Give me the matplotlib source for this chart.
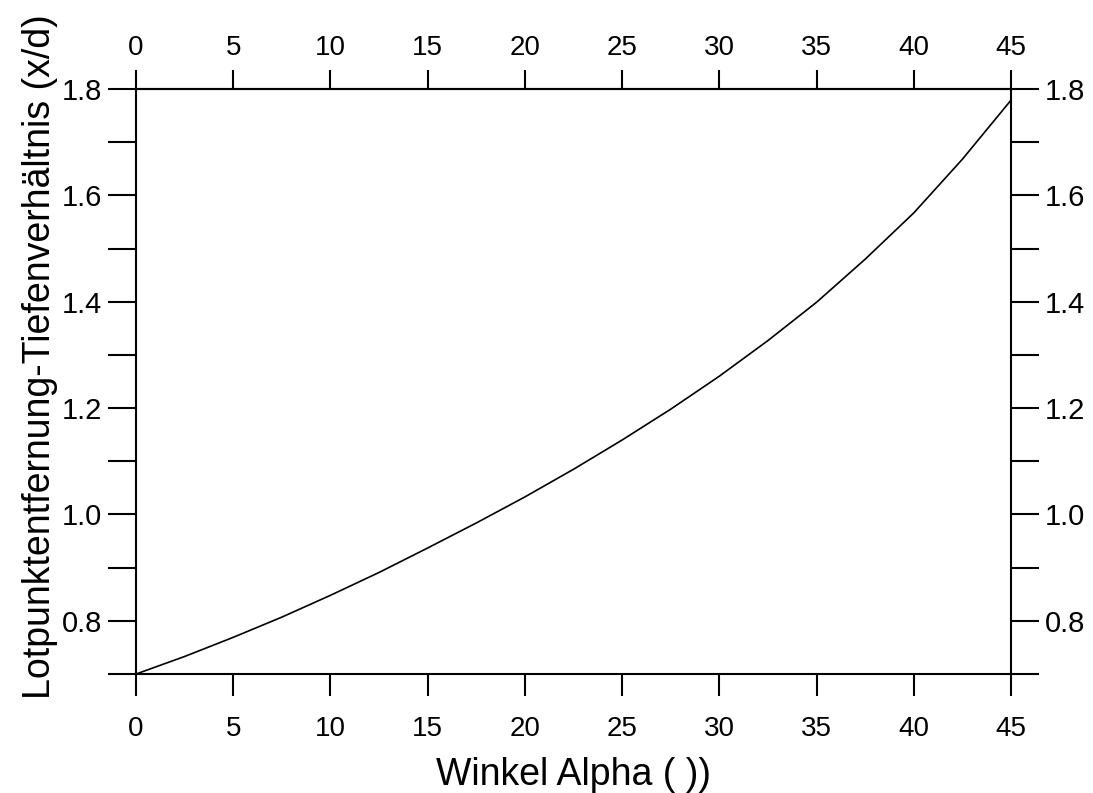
import numpy as np
import matplotlib
matplotlib.use('Agg')
import matplotlib.pyplot as plt

plt.rcParams['font.family'] = ['Liberation Sans', 'DejaVu Sans']

# values
alpha = [0, 2.5, 5, 7.5, 10, 12.5, 15, 17.5, 20, 22.5, 25, 27.5, 30, 32.5, 35, 37.5, 40, 42.5, 45]
ratio = [0.700, 0.733, 0.769, 0.807, 0.848, 0.891, 0.937, 0.984, 1.033, 1.085,
         1.140, 1.198, 1.260, 1.327, 1.399, 1.480, 1.567, 1.668, 1.779]

x_ticks = [0, 5, 10, 15, 20, 25, 30, 35, 40, 45]
y_ticks = [0.8, 1.0, 1.2, 1.4, 1.6, 1.8]
y_minor = [0.7, 0.9, 1.1, 1.3, 1.5, 1.7]

fig = plt.figure(figsize=(10.93, 7.93), dpi=100)
ax = fig.add_axes([0.1244, 0.150, 0.8006, 0.7378])

ax.plot(alpha, ratio, color='black', lw=1.2)

ax.set_xlim(0, 45)
ax.set_ylim(0.7, 1.8)
ax.set_xticks(x_ticks)
ax.set_xticklabels([str(v) for v in x_ticks])
ax.set_yticks(y_ticks)
ax.set_yticklabels(['%.1f' % v for v in y_ticks])
ax.set_yticks(y_minor, minor=True)

for s in ax.spines.values():
    s.set_linewidth(1.5)

ax.tick_params(axis='x', which='major', direction='out', length=16, width=1.5,
               labelsize=20, pad=14)
ax.tick_params(axis='y', which='both', direction='out', length=20.5, width=1.5,
               labelsize=21, pad=4, right=True, labelright=True)

# top axis: same ticks, labels closer to the ticks
top = ax.secondary_xaxis('top')
top.set_xticks(x_ticks)
top.set_xticklabels([str(v) for v in x_ticks])
top.tick_params(direction='out', length=14, width=1.5, labelsize=20, pad=6)
top.spines['top'].set_linewidth(1.5)

ax.set_xlabel('Winkel Alpha ( ))', fontsize=27)
ax.xaxis.set_label_coords(0.5, -0.173)
ax.xaxis.label.set_va('center')
ax.set_ylabel('Lotpunktentfernung-Tiefenverhältnis (x/d)', fontsize=27)
ax.yaxis.set_label_coords(-0.110, 0.542)
ax.yaxis.label.set_va('center')

fig.savefig('out.png', dpi=100)
